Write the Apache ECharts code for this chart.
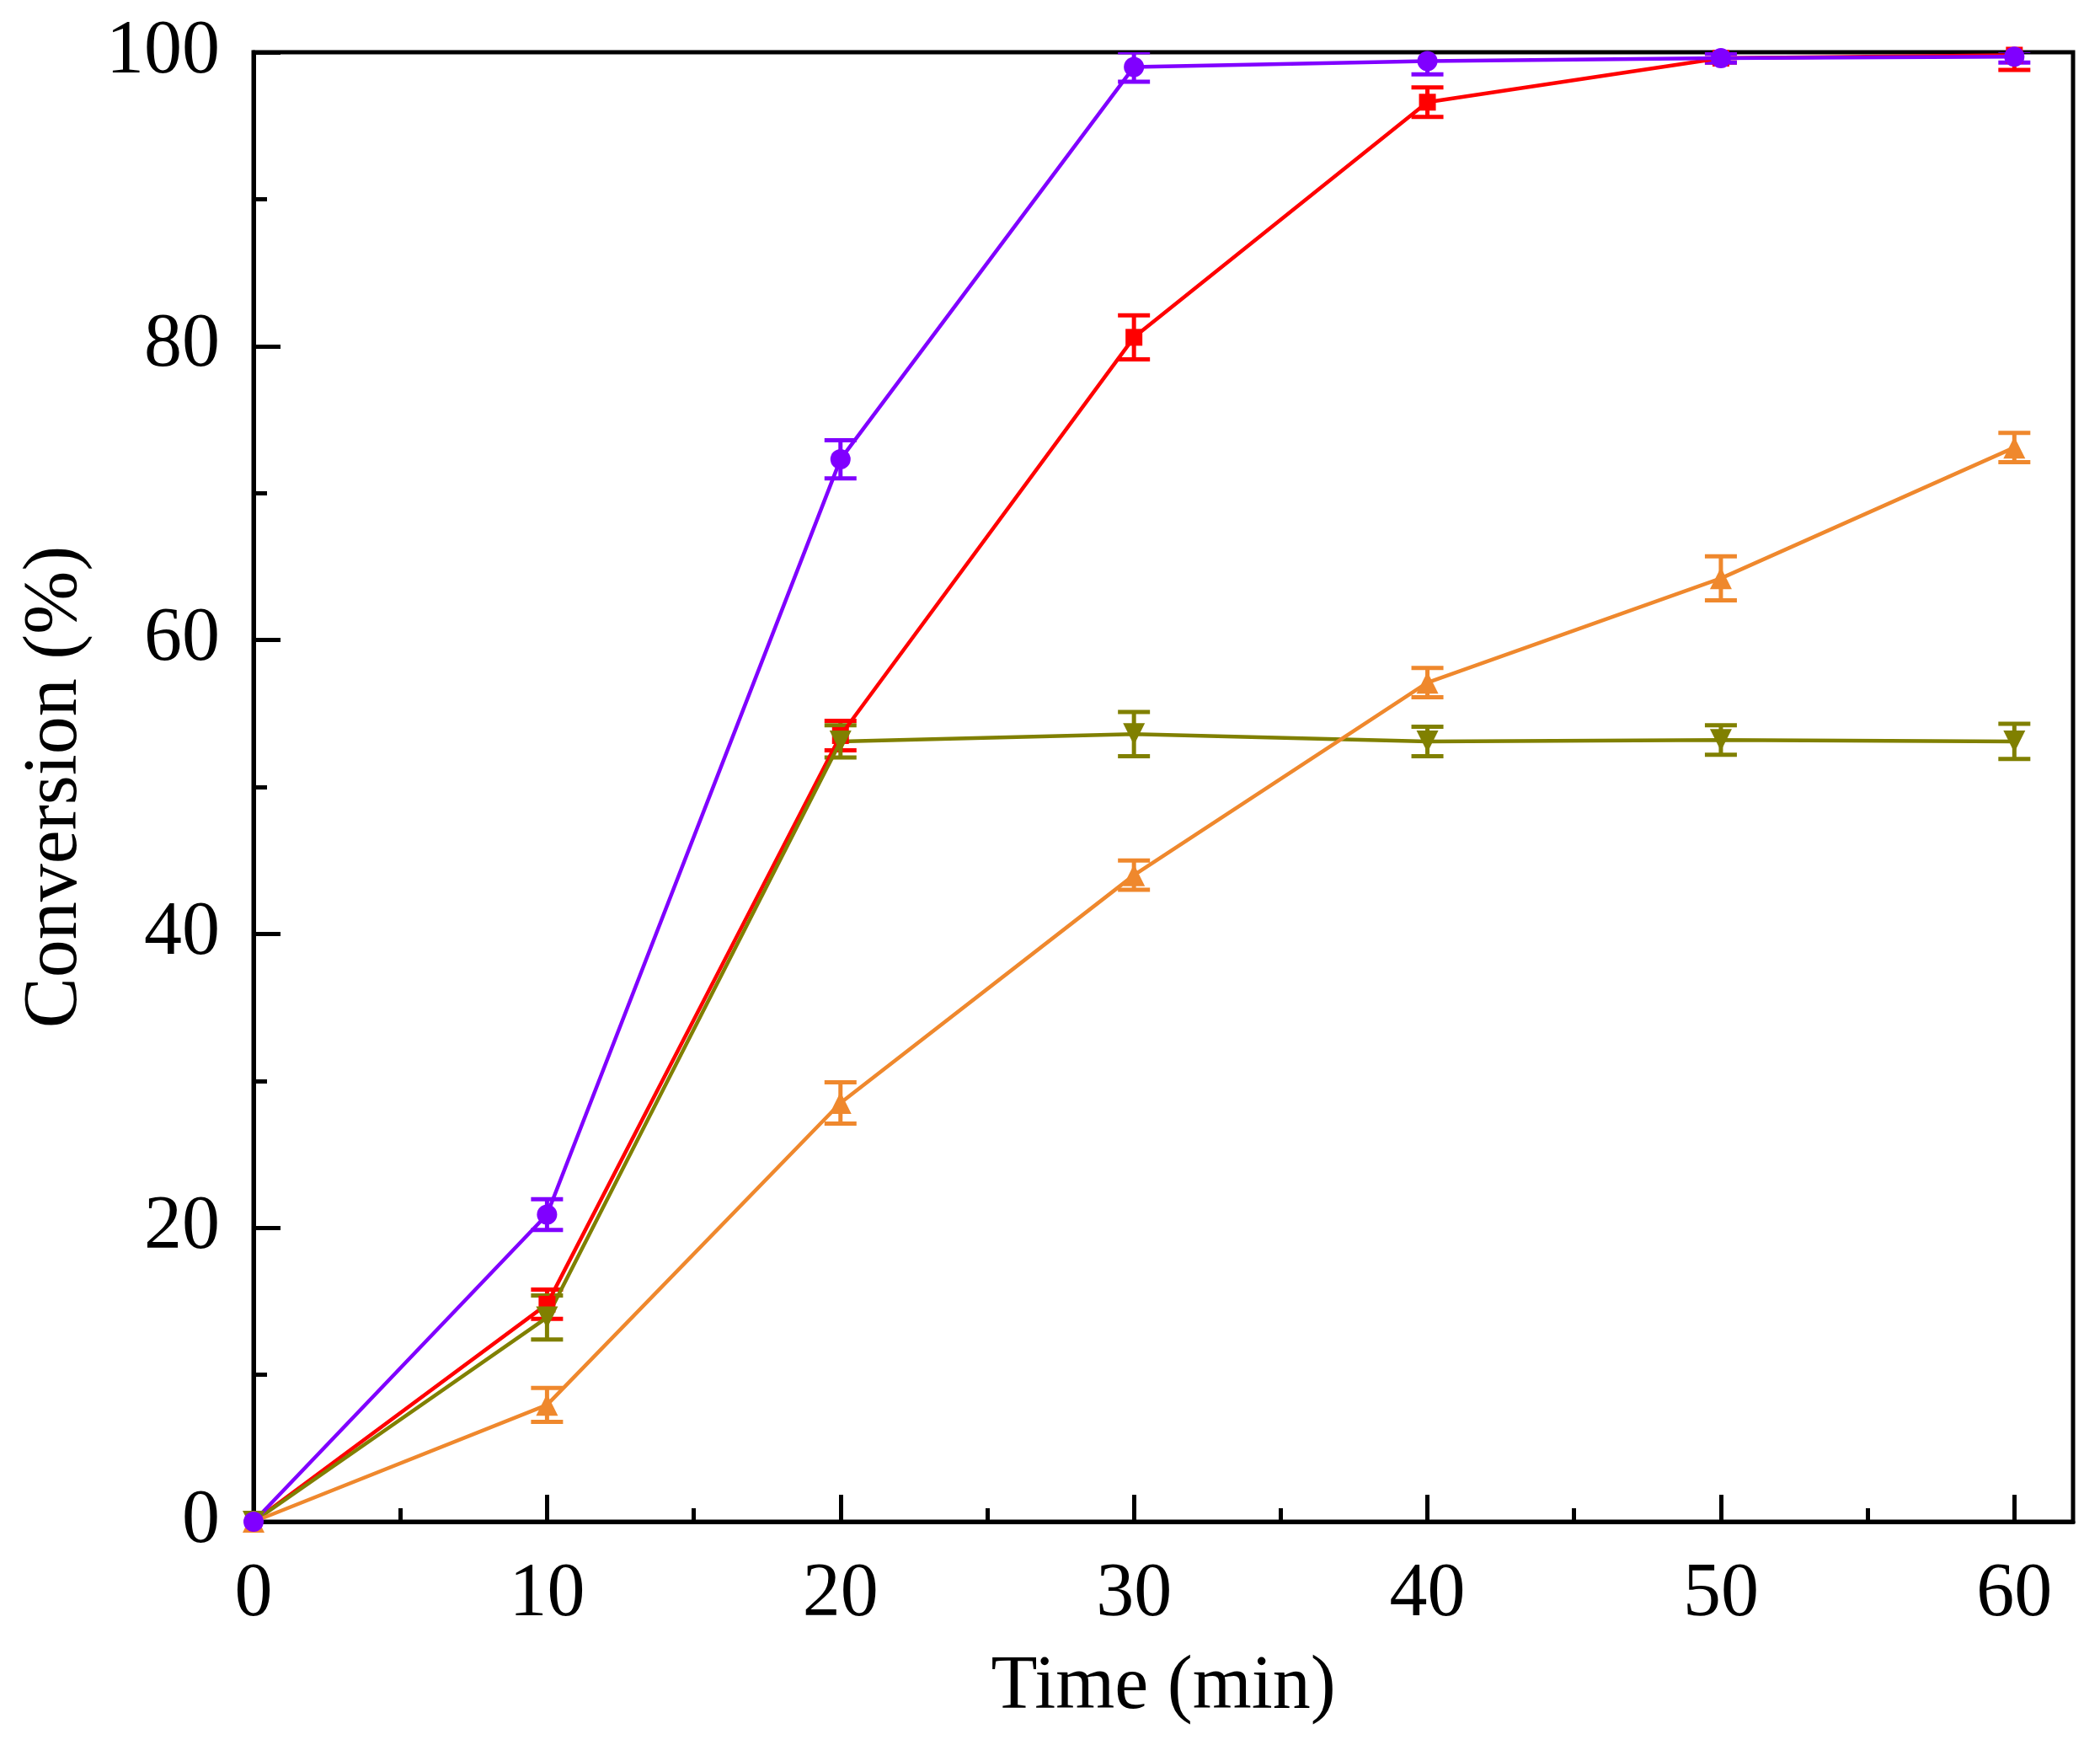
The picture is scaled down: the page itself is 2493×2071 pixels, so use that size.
<!DOCTYPE html>
<html>
<head>
<meta charset="utf-8">
<script src="https://cdn.jsdelivr.net/npm/echarts@6/dist/echarts.min.js"></script>
<style>
  html, body { margin: 0; padding: 0; background: #fff; }
  #chart { width: 2493px; height: 2071px; }
</style>
</head>
<body>
<div id="chart"></div>
<script>
// sampling times (min)
var times = [0, 10, 20, 30, 40, 50, 60];

// conversion (%) and error of each run
var purpleY   = [0, 20.9, 72.3, 99.0, 99.4, 99.6, 99.7];
var purpleErr = [0, 1.05, 1.3, 1.0, 0.9, 0.3, 0.4];
var redY      = [0, 14.8, 53.5, 80.6, 96.6, 99.6, 99.8];
var redErr    = [0, 1.0, 1.0, 1.5, 1.0, 0.3, 1.0];
var oliveY    = [0, 13.9, 53.1, 53.6, 53.1, 53.2, 53.1];
var oliveErr  = [0, 1.5, 1.1, 1.5, 1.0, 1.0, 1.2];
var orangeY   = [0, 7.95, 28.5, 44.0, 57.1, 64.2, 73.1];
var orangeErr = [0, 1.15, 1.4, 1.0, 1.0, 1.5, 1.0];

// axis ticks
var xMajor = [0, 10, 20, 30, 40, 50, 60];
var xMinor = [5, 15, 25, 35, 45, 55];

var FONT = "'Liberation Serif', 'Times New Roman', serif";

function pairs(ys) {
  return times.map(function (t, i) { return [t, ys[i]]; });
}

// error bar series: vertical line with caps
function errSeries(ys, errs, color) {
  var data = times.map(function (t, i) { return [t, ys[i] - errs[i], ys[i] + errs[i]]; });
  return {
    type: 'custom',
    clip: true,
    z: 3,
    data: data,
    renderItem: function (params, api) {
      var lo = api.coord([api.value(0), api.value(1)]);
      var hi = api.coord([api.value(0), api.value(2)]);
      if (Math.abs(lo[1] - hi[1]) < 1) return null;
      var hw = 19;
      var st = { stroke: color, lineWidth: 5 };
      return {
        type: 'group',
        children: [
          { type: 'line', shape: { x1: lo[0], y1: lo[1], x2: hi[0], y2: hi[1] }, style: st },
          { type: 'line', shape: { x1: lo[0] - hw, y1: lo[1], x2: lo[0] + hw, y2: lo[1] }, style: st },
          { type: 'line', shape: { x1: hi[0] - hw, y1: hi[1], x2: hi[0] + hw, y2: hi[1] }, style: st }
        ]
      };
    }
  };
}

function lineSeries(ys, color, symbol, size, rotate) {
  return {
    type: 'line',
    data: pairs(ys),
    symbol: symbol,
    symbolSize: size,
    symbolRotate: rotate || 0,
    showAllSymbol: true,
    z: 4,
    lineStyle: { color: color, width: 4.5 },
    itemStyle: { color: color }
  };
}

var myChart = echarts.init(document.getElementById('chart'));

var option = {
  backgroundColor: '#fff',
  animation: false,
  grid: {
    left: 301, right: 32, top: 62, bottom: 265,
    show: true, borderColor: '#000', borderWidth: 5,
    containLabel: false
  },
  xAxis: [
    {
      type: 'value',
      min: 0, max: 62,
      name: 'Time (min)',
      nameLocation: 'middle',
      nameGap: 152,
      nameTextStyle: { fontFamily: FONT, fontSize: 90, color: '#000' },
      axisLine: { show: true, lineStyle: { color: '#000', width: 5 } },
      axisTick: { show: true, inside: true, length: 32, customValues: xMajor, lineStyle: { color: '#000', width: 5 } },
      axisLabel: { customValues: xMajor, fontFamily: FONT, fontSize: 90, color: '#000', margin: 42 },
      splitLine: { show: false }
    },
    {
      type: 'value',
      min: 0, max: 62,
      position: 'bottom',
      axisLine: { show: false },
      axisTick: { show: true, inside: true, length: 16, customValues: xMinor, lineStyle: { color: '#000', width: 5 } },
      axisLabel: { show: false },
      splitLine: { show: false }
    }
  ],
  yAxis: {
    type: 'value',
    min: 0, max: 100, interval: 20,
    name: 'Conversion (%)',
    nameLocation: 'middle',
    nameGap: 190,
    nameTextStyle: { fontFamily: FONT, fontSize: 90, color: '#000' },
    axisLine: { show: true, lineStyle: { color: '#000', width: 5 } },
    axisTick: { show: true, inside: true, length: 32, lineStyle: { color: '#000', width: 5 } },
    minorTick: { show: true, splitNumber: 2, length: 16, lineStyle: { color: '#000', width: 5 } },
    axisLabel: { fontFamily: FONT, fontSize: 90, color: '#000', margin: 40 },
    splitLine: { show: false },
    minorSplitLine: { show: false }
  },
  series: [
    lineSeries(redY, '#FF0000', 'rect', 20),
    errSeries(redY, redErr, '#FF0000'),
    lineSeries(oliveY, '#808000', 'triangle', 26, 180),
    errSeries(oliveY, oliveErr, '#808000'),
    lineSeries(orangeY, '#EF882D', 'triangle', 26),
    errSeries(orangeY, orangeErr, '#EF882D'),
    lineSeries(purpleY, '#8000FF', 'circle', 24),
    errSeries(purpleY, purpleErr, '#8000FF')
  ]
};

if (option && typeof option === "object") {
  myChart.setOption(option, true);
}
</script>
</body>
</html>
